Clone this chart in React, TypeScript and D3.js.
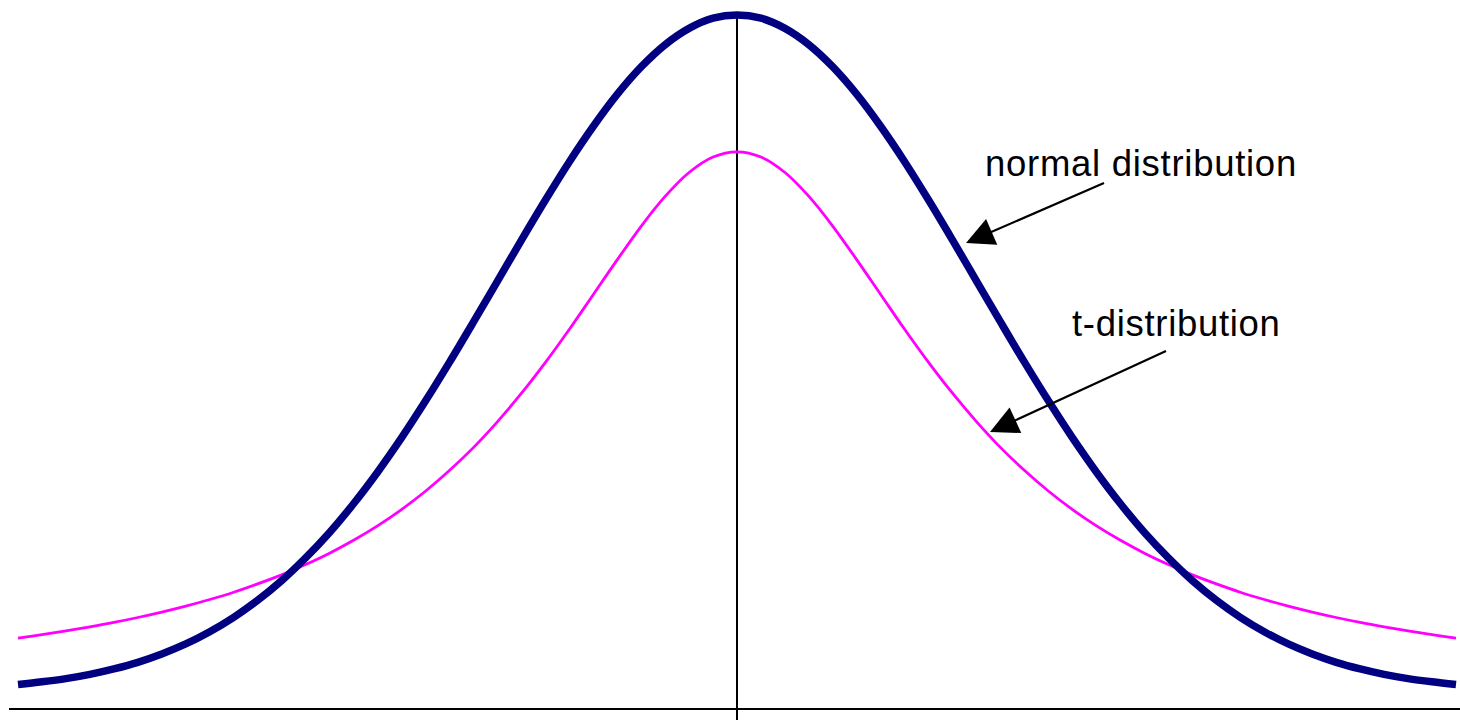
import React from "react";
import * as d3 from "d3";

// x positions (standard units) at which the curves were read
const xValues = [
  -3.0, -2.9, -2.8, -2.7, -2.6, -2.5, -2.4, -2.3, -2.2, -2.1,
  -2.0, -1.9, -1.8, -1.7, -1.6, -1.5, -1.4, -1.3, -1.2, -1.1,
  -1.0, -0.9, -0.8, -0.7, -0.6, -0.5, -0.4, -0.3, -0.2, -0.1,
  0.0,
  0.1, 0.2, 0.3, 0.4, 0.5, 0.6, 0.7, 0.8, 0.9, 1.0,
  1.1, 1.2, 1.3, 1.4, 1.5, 1.6, 1.7, 1.8, 1.9, 2.0,
  2.1, 2.2, 2.3, 2.4, 2.5, 2.6, 2.7, 2.8, 2.9, 3.0,
];

// normal distribution density
const normalValues = [
  0.0044, 0.0060, 0.0079, 0.0104, 0.0136, 0.0175, 0.0224, 0.0283, 0.0355, 0.0440,
  0.0540, 0.0656, 0.0790, 0.0940, 0.1109, 0.1295, 0.1497, 0.1714, 0.1942, 0.2179,
  0.2420, 0.2661, 0.2897, 0.3123, 0.3332, 0.3521, 0.3683, 0.3814, 0.3910, 0.3970,
  0.3989,
  0.3970, 0.3910, 0.3814, 0.3683, 0.3521, 0.3332, 0.3123, 0.2897, 0.2661, 0.2420,
  0.2179, 0.1942, 0.1714, 0.1497, 0.1295, 0.1109, 0.0940, 0.0790, 0.0656, 0.0540,
  0.0440, 0.0355, 0.0283, 0.0224, 0.0175, 0.0136, 0.0104, 0.0079, 0.0060, 0.0044,
];

// t-distribution density
const tValues = [
  0.0318, 0.0338, 0.0360, 0.0384, 0.0410, 0.0439, 0.0471, 0.0506, 0.0545, 0.0588,
  0.0637, 0.0690, 0.0751, 0.0818, 0.0894, 0.0979, 0.1075, 0.1183, 0.1305, 0.1440,
  0.1592, 0.1759, 0.1941, 0.2136, 0.2341, 0.2546, 0.2744, 0.2920, 0.3061, 0.3152,
  0.3183,
  0.3152, 0.3061, 0.2920, 0.2744, 0.2546, 0.2341, 0.2136, 0.1941, 0.1759, 0.1592,
  0.1440, 0.1305, 0.1183, 0.1075, 0.0979, 0.0894, 0.0818, 0.0751, 0.0690, 0.0637,
  0.0588, 0.0545, 0.0506, 0.0471, 0.0439, 0.0410, 0.0384, 0.0360, 0.0338, 0.0318,
];

const labels = ["normal distribution", "t-distribution"];

const W = 1460;
const H = 720;

export default function App() {
  const x = d3.scaleLinear().domain([-3, 3]).range([18, 1456]);
  const y = d3.scaleLinear().domain([0, 0.3989]).range([692, 15]);

  const normalPts: [number, number][] = xValues.map((v, i) => [v, normalValues[i]]);
  const tPts: [number, number][] = xValues.map((v, i) => [v, tValues[i]]);

  const line = d3
    .line<[number, number]>()
    .x((d) => x(d[0]))
    .y((d) => y(d[1]))
    .curve(d3.curveCatmullRom.alpha(0.5));

  const arrowHead = (tx: number, ty: number, fx: number, fy: number, len: number, half: number) => {
    const dx = tx - fx;
    const dy = ty - fy;
    const l = Math.sqrt(dx * dx + dy * dy);
    const ux = dx / l;
    const uy = dy / l;
    const bx = tx - ux * len;
    const by = ty - uy * len;
    const px = -uy;
    const py = ux;
    return `M${tx},${ty}L${bx + px * half},${by + py * half}L${bx - px * half},${by - py * half}Z`;
  };

  const arrows = [
    { fx: 1104, fy: 183, tx: 966, ty: 243 },
    { fx: 1166, fy: 351, tx: 990, ty: 432 },
  ];

  const font = "'Liberation Sans', Arial, Helvetica, sans-serif";

  return (
    <svg
      width={W}
      height={H}
      style={{ position: "absolute", left: 0, top: 0, background: "#fff" }}
    >
      {/* horizontal axis */}
      <line x1={9} x2={1460} y1={709} y2={709} stroke="#000" strokeWidth={2.2} />
      {/* vertical center line */}
      <line x1={x(0)} x2={x(0)} y1={y(0.3989)} y2={720} stroke="#000" strokeWidth={2} />

      <path d={line(tPts) || ""} fill="none" stroke="#ff00ff" strokeWidth={2.8} />
      <path d={line(normalPts) || ""} fill="none" stroke="#000080" strokeWidth={7.5} />

      {/* annotations */}
      <text x={985} y={176} fontFamily={font} fontSize={36.5} letterSpacing={0.72} fill="#000">
        {labels[0]}
      </text>
      <text x={1072} y={336} fontFamily={font} fontSize={36.5} letterSpacing={0.7} fill="#000">
        {labels[1]}
      </text>
      {arrows.map((a, i) => (
        <g key={i}>
          <line x1={a.fx} y1={a.fy} x2={a.tx + (a.fx - a.tx) * 0.12} y2={a.ty + (a.fy - a.ty) * 0.12} stroke="#000" strokeWidth={2.2} />
          <path d={arrowHead(a.tx, a.ty, a.fx, a.fy, 28, 14)} fill="#000" />
        </g>
      ))}
    </svg>
  );
}
